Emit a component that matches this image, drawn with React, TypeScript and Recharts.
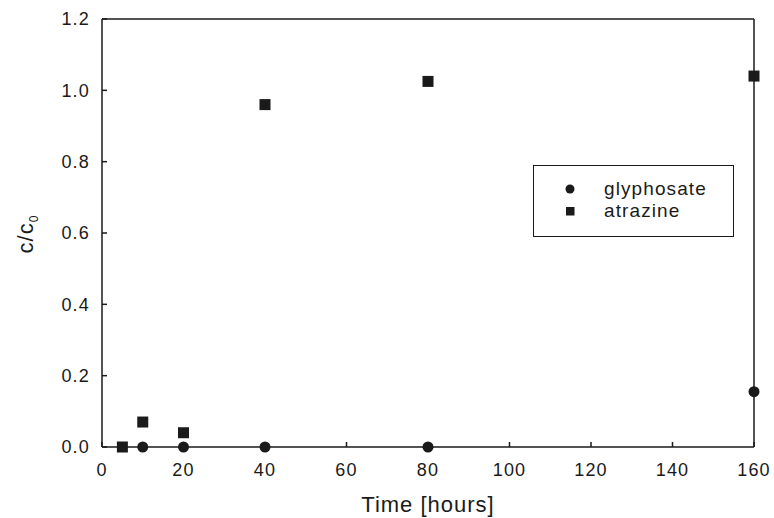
import { ScatterChart, Scatter, XAxis, YAxis, ReferenceLine, Legend } from "recharts"

const glyphosateTime = [10, 20, 40, 80, 160]
const glyphosateRatio = [0, 0, 0, 0, 0.155]
const atrazineTime = [5, 10, 20, 40, 80, 160]
const atrazineRatio = [0, 0.07, 0.04, 0.96, 1.025, 1.04]
const xTicks = [0, 20, 40, 60, 80, 100, 120, 140, 160]
const yTicks = [0, 0.2, 0.4, 0.6, 0.8, 1.0, 1.2]

const glyphosate = glyphosateTime.map((t, i) => ({ t, c: glyphosateRatio[i] }))
const atrazine = atrazineTime.map((t, i) => ({ t, c: atrazineRatio[i] }))

const ink = "#1a1a1a"
const font = "'Liberation Sans', Arial, sans-serif"

const Dot = (props: any) => <circle cx={props.cx} cy={props.cy} r={5.5} fill={ink} />
const Box = (props: any) => (
  <rect x={props.cx - 5.5} y={props.cy - 5.5} width={11} height={11} fill={ink} />
)

const LegendBox = () => (
  <div
    style={{
      border: `1px solid ${ink}`,
      width: 201,
      height: 72,
      boxSizing: "border-box",
      fontFamily: font,
      fontSize: 19,
      letterSpacing: 1.1,
      color: ink,
      padding: "12px 0 0 31px",
      lineHeight: "22px",
      background: "#fff",
    }}
  >
    <div style={{ display: "flex", alignItems: "center" }}>
      <svg width={10} height={10} style={{ marginRight: 29 }}>
        <circle cx={5} cy={5} r={4.5} fill={ink} />
      </svg>
      glyphosate
    </div>
    <div style={{ display: "flex", alignItems: "center" }}>
      <svg width={10} height={10} style={{ marginRight: 29 }}>
        <rect x={1} y={1} width={8.5} height={8.5} fill={ink} />
      </svg>
      atrazine
    </div>
  </div>
)

const YLabel = () => (
  <text
    transform="translate(33, 234) rotate(-90)"
    textAnchor="middle"
    fontFamily={font}
    fontSize={22}
    letterSpacing={1}
    fill={ink}
  >
    c/c
    <tspan fontSize={12} dy={5}>0</tspan>
  </text>
)

const tickStyle = { fill: ink, fontSize: 18, fontFamily: font, letterSpacing: 1.2 }

export default function App() {
  return (
    <div style={{ position: "absolute", left: 0, top: 0, background: "#fff" }}>
      <ScatterChart width={774} height={518} margin={{ top: 19, right: 20, bottom: 0, left: 0 }}>
        <XAxis
          type="number"
          dataKey="t"
          domain={[0, 160]}
          ticks={xTicks}
          height={71}
          tickSize={-5}
          tickMargin={21}
          stroke={ink}
          strokeWidth={1.5}
          tick={tickStyle}
          label={{
            value: "Time [hours]",
            position: "insideBottom",
            offset: 6,
            fill: ink,
            fontSize: 22,
            letterSpacing: 1,
            fontFamily: font,
          }}
        />
        <YAxis
          type="number"
          dataKey="c"
          domain={[0, 1.2]}
          ticks={yTicks}
          width={102}
          tickSize={-5}
          tickMargin={17}
          stroke={ink}
          strokeWidth={1.5}
          tickFormatter={(v: number) => v.toFixed(1)}
          tick={tickStyle}
          label={<YLabel />}
        />
        <ReferenceLine y={1.2} stroke={ink} strokeWidth={1.5} />
        <ReferenceLine x={160} stroke={ink} strokeWidth={1.5} />
        <Legend
          layout="horizontal"
          verticalAlign="middle"
          align="center"
          content={<LegendBox />}
          wrapperStyle={{ position: "absolute", left: 533, top: 165, width: 201 }}
        />
        <Scatter name="glyphosate" data={glyphosate} shape={<Dot />} isAnimationActive={false} />
        <Scatter name="atrazine" data={atrazine} shape={<Box />} isAnimationActive={false} />
      </ScatterChart>
    </div>
  )
}
